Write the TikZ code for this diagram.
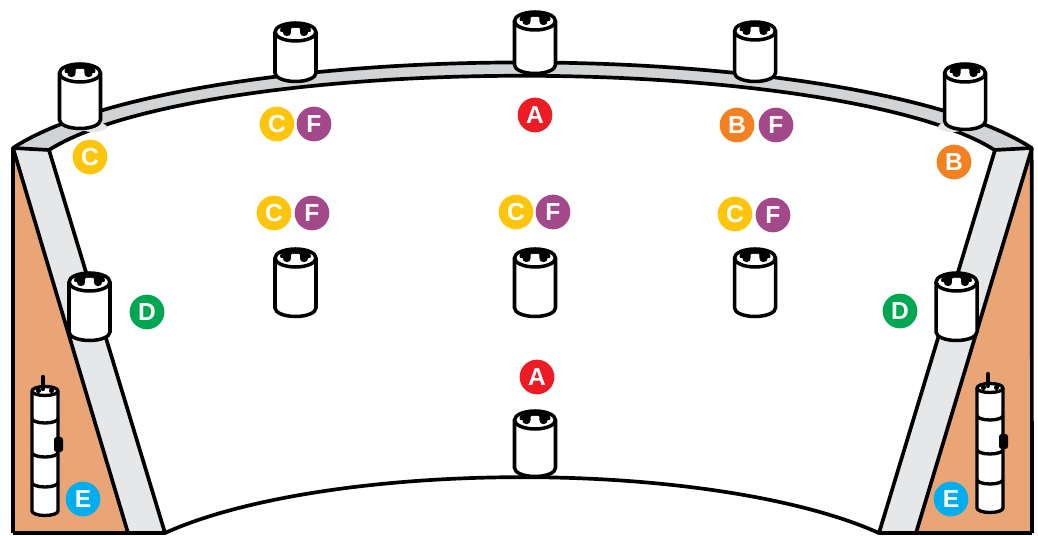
\documentclass[tikz,border=0pt]{standalone}
\usepackage{fontspec}
\setsansfont{Liberation Sans}
\usepackage{tikz}

\definecolor{curbtop}{RGB}{209,211,212}
\definecolor{curbside}{RGB}{230,231,232}
\definecolor{soil}{RGB}{233,165,118}
\definecolor{ylw}{RGB}{255,197,12}
\definecolor{plum}{RGB}{163,72,137}
\definecolor{rd}{RGB}{237,28,36}
\definecolor{orng}{RGB}{243,129,34}
\definecolor{grn}{RGB}{0,166,81}
\definecolor{cyn}{RGB}{0,174,239}

% riser: centre x, top ellipse y, bottom ellipse y
\newcommand{\drawriser}[3]{%
  \fill[white] (#1-20.5,#2) -- (#1-20.5,#3)
    arc[start angle=180,end angle=0,x radius=20.5,y radius=8.5] -- (#1+20.5,#2) -- cycle;
  \draw[riser] (#1-20.5,#2) -- (#1-20.5,#3)
    arc[start angle=180,end angle=0,x radius=20.5,y radius=8.5] -- (#1+20.5,#2);
  \draw[riser,fill=white] (#1,#2) ellipse[x radius=20.5,y radius=9];
  \begin{scope}
    \clip (#1,#2) ellipse[x radius=19,y radius=7.5];
    \clip (#1-20,#2-10) rectangle (#1+20,#2-0.5);
    \fill (#1,#2-2) ellipse[x radius=15.5,y radius=7.5];
  \end{scope}
  \fill (#1-8.5,#2) circle[radius=4.2] (#1+8.5,#2) circle[radius=4.2];
  \fill[white,rounded corners=0.5pt] (#1-4.3,#2-4) rectangle (#1+4.3,#2+1);
}

% stacked sensor: centre x, top ellipse y
\newcommand{\drawsonde}[2]{%
  \fill[white] (#1-13,#2) -- (#1-13,#2+120)
    arc[start angle=180,end angle=0,x radius=13,y radius=4.5] -- (#1+13,#2) -- cycle;
  \draw[sonde] (#1-13,#2) -- (#1-13,#2+120)
    arc[start angle=180,end angle=0,x radius=13,y radius=4.5] -- (#1+13,#2);
  \draw[sonde] (#1-13,#2+27.5) arc[start angle=180,end angle=0,x radius=13,y radius=4.5];
  \draw[sonde] (#1-13,#2+61.5) arc[start angle=180,end angle=0,x radius=13,y radius=4.5];
  \draw[sonde] (#1-13,#2+91.5) arc[start angle=180,end angle=0,x radius=13,y radius=4.5];
  \draw[sonde,fill=white] (#1,#2) ellipse[x radius=13,y radius=4.5];
  \fill (#1-6.5,#2-0.5) circle[radius=2.6] (#1+6.5,#2-0.5) circle[radius=2.6];
  \draw[line width=2.4pt,line cap=round] (#1-2,#2-2) -- (#1-2,#2-14);
  \fill[rounded corners=1.5pt] (#1+9,#2+46) rectangle (#1+18,#2+61);
}

\begin{document}
\begin{tikzpicture}[x=0.02cm,y=-0.02cm,line join=round,
  curbline/.style={line width=2.1pt},
  riser/.style={line width=2pt},
  sonde/.style={line width=1.9pt},
  badge/.style={circle,inner sep=0pt,minimum size=0.694cm,text=white,
    font=\sffamily\bfseries\fontsize{14}{14}\selectfont}]
  \useasboundingbox (0,0) rectangle (1038,536);

  % curbs and embankment
  \fill[curbtop] (13,148) arc[start angle=200,end angle=340,x radius=542,y radius=130]
    -- (995,150) arc[start angle=341,end angle=199,x radius=500,y radius=110] -- cycle;
  \fill[curbside] (13,148) -- (49,150) -- (165,533) -- (128,533) -- cycle;
  \fill[curbside] (1032,148) -- (995,150) -- (879,533) -- (916,533) -- cycle;
  \fill[soil] (13,148) -- (128,533) -- (13,533) -- cycle;
  \fill[soil] (1032,148) -- (916,533) -- (1032,533) -- cycle;

  \draw[curbline] (13,533) -- (13,148)
    arc[start angle=200,end angle=340,x radius=542,y radius=130] -- (1032,533);
  \draw[curbline] (13,533) -- (165,533)
    arc[start angle=211.8,end angle=328.2,x radius=420,y radius=118] -- (1032,533);
  \draw[curbline] (13,148) -- (49,150)
    arc[start angle=199,end angle=341,x radius=500,y radius=110] -- (1032,148);
  \draw[curbline] (13,148) -- (128,533);
  \draw[curbline] (49,150) -- (165,533);
  \draw[curbline] (1032,148) -- (916,533);
  \draw[curbline] (995,150) -- (879,533);

  % shadows at the corner risers
  \fill[black!10] (93,127) ellipse[x radius=14,y radius=5];
  \fill[black!10] (952,127) ellipse[x radius=14,y radius=5];

  % risers
  \drawriser{80}{73}{120}
  \drawriser{295.5}{32}{73}
  \drawriser{535}{21}{65}
  \drawriser{755}{31}{73}
  \drawriser{965}{73}{121}
  \drawriser{89.5}{282}{332}
  \drawriser{956.5}{282}{332}
  \drawriser{295.5}{258}{308}
  \drawriser{535}{258}{308}
  \drawriser{755}{258}{308}
  \drawriser{535}{420}{468}

  % sensors in the embankment
  \drawsonde{45}{391}
  \drawsonde{990}{388}

  % labels
  \node[badge,fill=ylw] (C0) at (90,157) {C};
  \node[badge,fill=ylw] (C1) at (277,124) {C};
  \node[badge,fill=plum] (F1) at (314,124) {F};
  \node[badge,fill=rd] (A0) at (535,115) {A};
  \node[badge,fill=orng] (B0) at (737,125) {B};
  \node[badge,fill=plum] (F2) at (776,125) {F};
  \node[badge,fill=orng] (B1) at (954,162) {B};
  \node[badge,fill=ylw] (C2) at (274,213) {C};
  \node[badge,fill=plum] (F3) at (312,213) {F};
  \node[badge,fill=ylw] (C3) at (516,212) {C};
  \node[badge,fill=plum] (F4) at (553,212) {F};
  \node[badge,fill=ylw] (C4) at (735,214) {C};
  \node[badge,fill=plum] (F5) at (773,215) {F};
  \node[badge,fill=grn] (D0) at (147,312) {D};
  \node[badge,fill=grn] (D1) at (900,311) {D};
  \node[badge,fill=rd] (A1) at (537,377) {A};
  \node[badge,fill=cyn] (E0) at (83,499) {E};
  \node[badge,fill=cyn] (E1) at (951,499) {E};
\end{tikzpicture}
\end{document}
